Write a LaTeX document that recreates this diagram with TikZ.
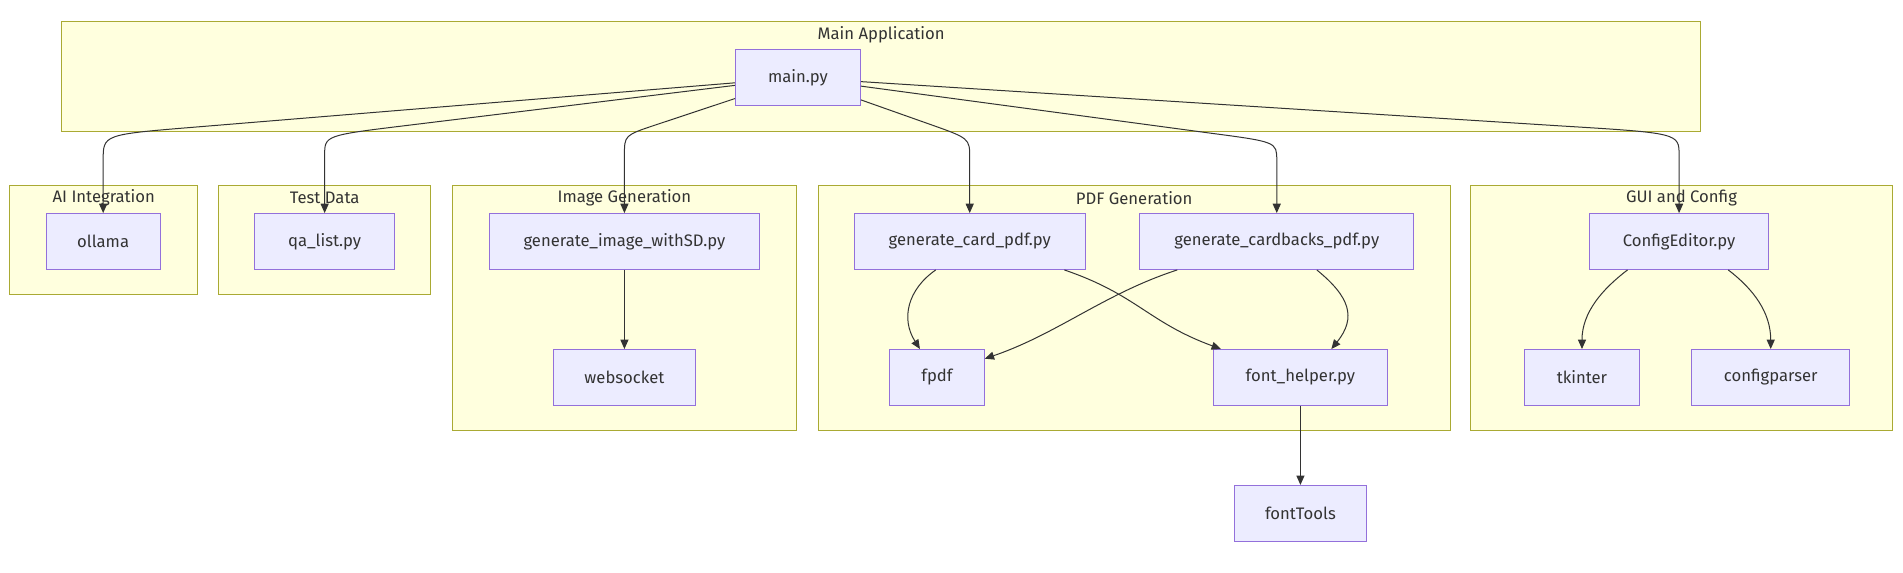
\documentclass[tikz,border=0pt]{standalone}
\usepackage{fontspec}
\setmainfont{Fira Sans}
\usetikzlibrary{arrows.meta,calc}
\definecolor{nodefill}{HTML}{ECECFF}
\definecolor{nodeline}{HTML}{9370DB}
\definecolor{clusterfill}{HTML}{FFFFDE}
\definecolor{clusterline}{HTML}{AAAA33}
\definecolor{edgeline}{HTML}{333333}

\begin{document}
\begin{tikzpicture}[x=0.9103pt,y=0.9103pt]
\tikzstyle{every node}+=[inner sep=0pt, font=\fontsize{12.5}{14}\selectfont, text=edgeline]
\tikzstyle{cluster}=[fill=clusterfill, draw=clusterline, line width=0.75pt]
\tikzstyle{box}=[rectangle, fill=nodefill, draw=nodeline, line width=0.75pt, minimum height=41.9pt]
\tikzstyle{edge}=[draw=edgeline, line width=0.75pt, -{Triangle[length=7pt,width=6pt]}]
\useasboundingbox (0,0) rectangle (1568,-472);
\fill [white] (0,0) rectangle (1568,-472);
% clusters
\draw [cluster] (51,-18) rectangle (1401,-108);
\draw (726,-29) node {Main Application};
\draw [cluster] (8,-153) rectangle (163,-243);
\draw (85.5,-163) node {AI Integration};
\draw [cluster] (180,-153) rectangle (355,-243);
\draw (267.5,-163) node {Test Data};
\draw [cluster] (373,-153) rectangle (656,-355);
\draw (514.5,-163) node {Image Generation};
\draw [cluster] (674,-153) rectangle (1195,-355);
\draw (934.5,-163) node {PDF Generation};
\draw [cluster] (1212,-153) rectangle (1559,-355);
\draw (1385.5,-163) node {GUI and Config};
% nodes
\node [box, minimum width=93.8pt] (main) at (657.5,-64) {main.py};
\node [box, minimum width=85.6pt] (ollama) at (85,-199) {ollama};
\node [box, minimum width=104.7pt] (qalist) at (267.5,-199) {qa\_list.py};
\node [box, minimum width=203pt] (genimage) at (514.5,-199) {generate\_image\_withSD.py};
\node [box, minimum width=106.5pt] (websocket) at (514.5,-311) {websocket};
\node [box, minimum width=173pt] (gencard) at (799,-199) {generate\_card\_pdf.py};
\node [box, minimum width=205.7pt] (gencardbacks) at (1052,-199) {generate\_cardbacks\_pdf.py};
\node [box, minimum width=71pt] (fpdf) at (772,-311) {fpdf};
\node [box, minimum width=130.2pt] (fonthelper) at (1071.5,-311) {font\_helper.py};
\node [box, minimum width=99.2pt] (fonttools) at (1071.5,-423) {fontTools};
\node [box, minimum width=133.8pt] (configeditor) at (1383.5,-199) {ConfigEditor.py};
\node [box, minimum width=86.5pt] (tkinter) at (1303.5,-311) {tkinter};
\node [box, minimum width=118.3pt] (configparser) at (1459,-311) {configparser};
% edges from main.py
\draw [edge] (main) -- (160,-104.8) .. controls (85,-110.9) .. (85,-132) -- (ollama.north);
\draw [edge] (main) -- (335,-103.4) .. controls (267.5,-111.6) .. (267.5,-128) -- (qalist.north);
\draw [edge] (main) -- (540,-103) .. controls (514.5,-111.5) .. (514.5,-128) -- (genimage.north);
\draw [edge] (main) -- (765,-102) .. controls (799,-114) .. (799,-130) -- (gencard.north);
\draw [edge] (main) -- (995,-109.4) .. controls (1052,-116.9) .. (1052,-132) -- (gencardbacks.north);
\draw [edge] (main) -- (1285,-103.7) .. controls (1383.5,-109.7) .. (1383.5,-128) -- (configeditor.north);
% edges inside the groups
\draw [edge] (genimage) -- (websocket);
\draw [edge] ($(gencard.south)+(-28,0)$) .. controls +(-23,-16) and +(-16,25) .. ($(fpdf.north)+(-14,0)$);
\draw [edge] ($(gencard.south)+(78,0)$) .. controls +(60,-20.5) and +(-60,22) .. ($(fonthelper.north)+(-65.5,0)$);
\draw [edge] ($(gencardbacks.south)+(-82,0)$) .. controls +(-60,-19.5) and +(60,20.5) .. ($(fpdf.north east)+(0,-8)$);
\draw [edge] ($(gencardbacks.south)+(33,0)$) .. controls +(27,-22) and +(21,26) .. ($(fonthelper.north)+(25.5,0)$);
\draw [edge] (fonthelper) -- (fonttools);
\draw [edge] ($(configeditor.south)+(-42.5,0)$) .. controls +(-21,-16) and +(0,30) .. (tkinter.north);
\draw [edge] ($(configeditor.south)+(40.5,0)$) .. controls +(21,-16) and +(0,30) .. (configparser.north);
\end{tikzpicture}
\end{document}
